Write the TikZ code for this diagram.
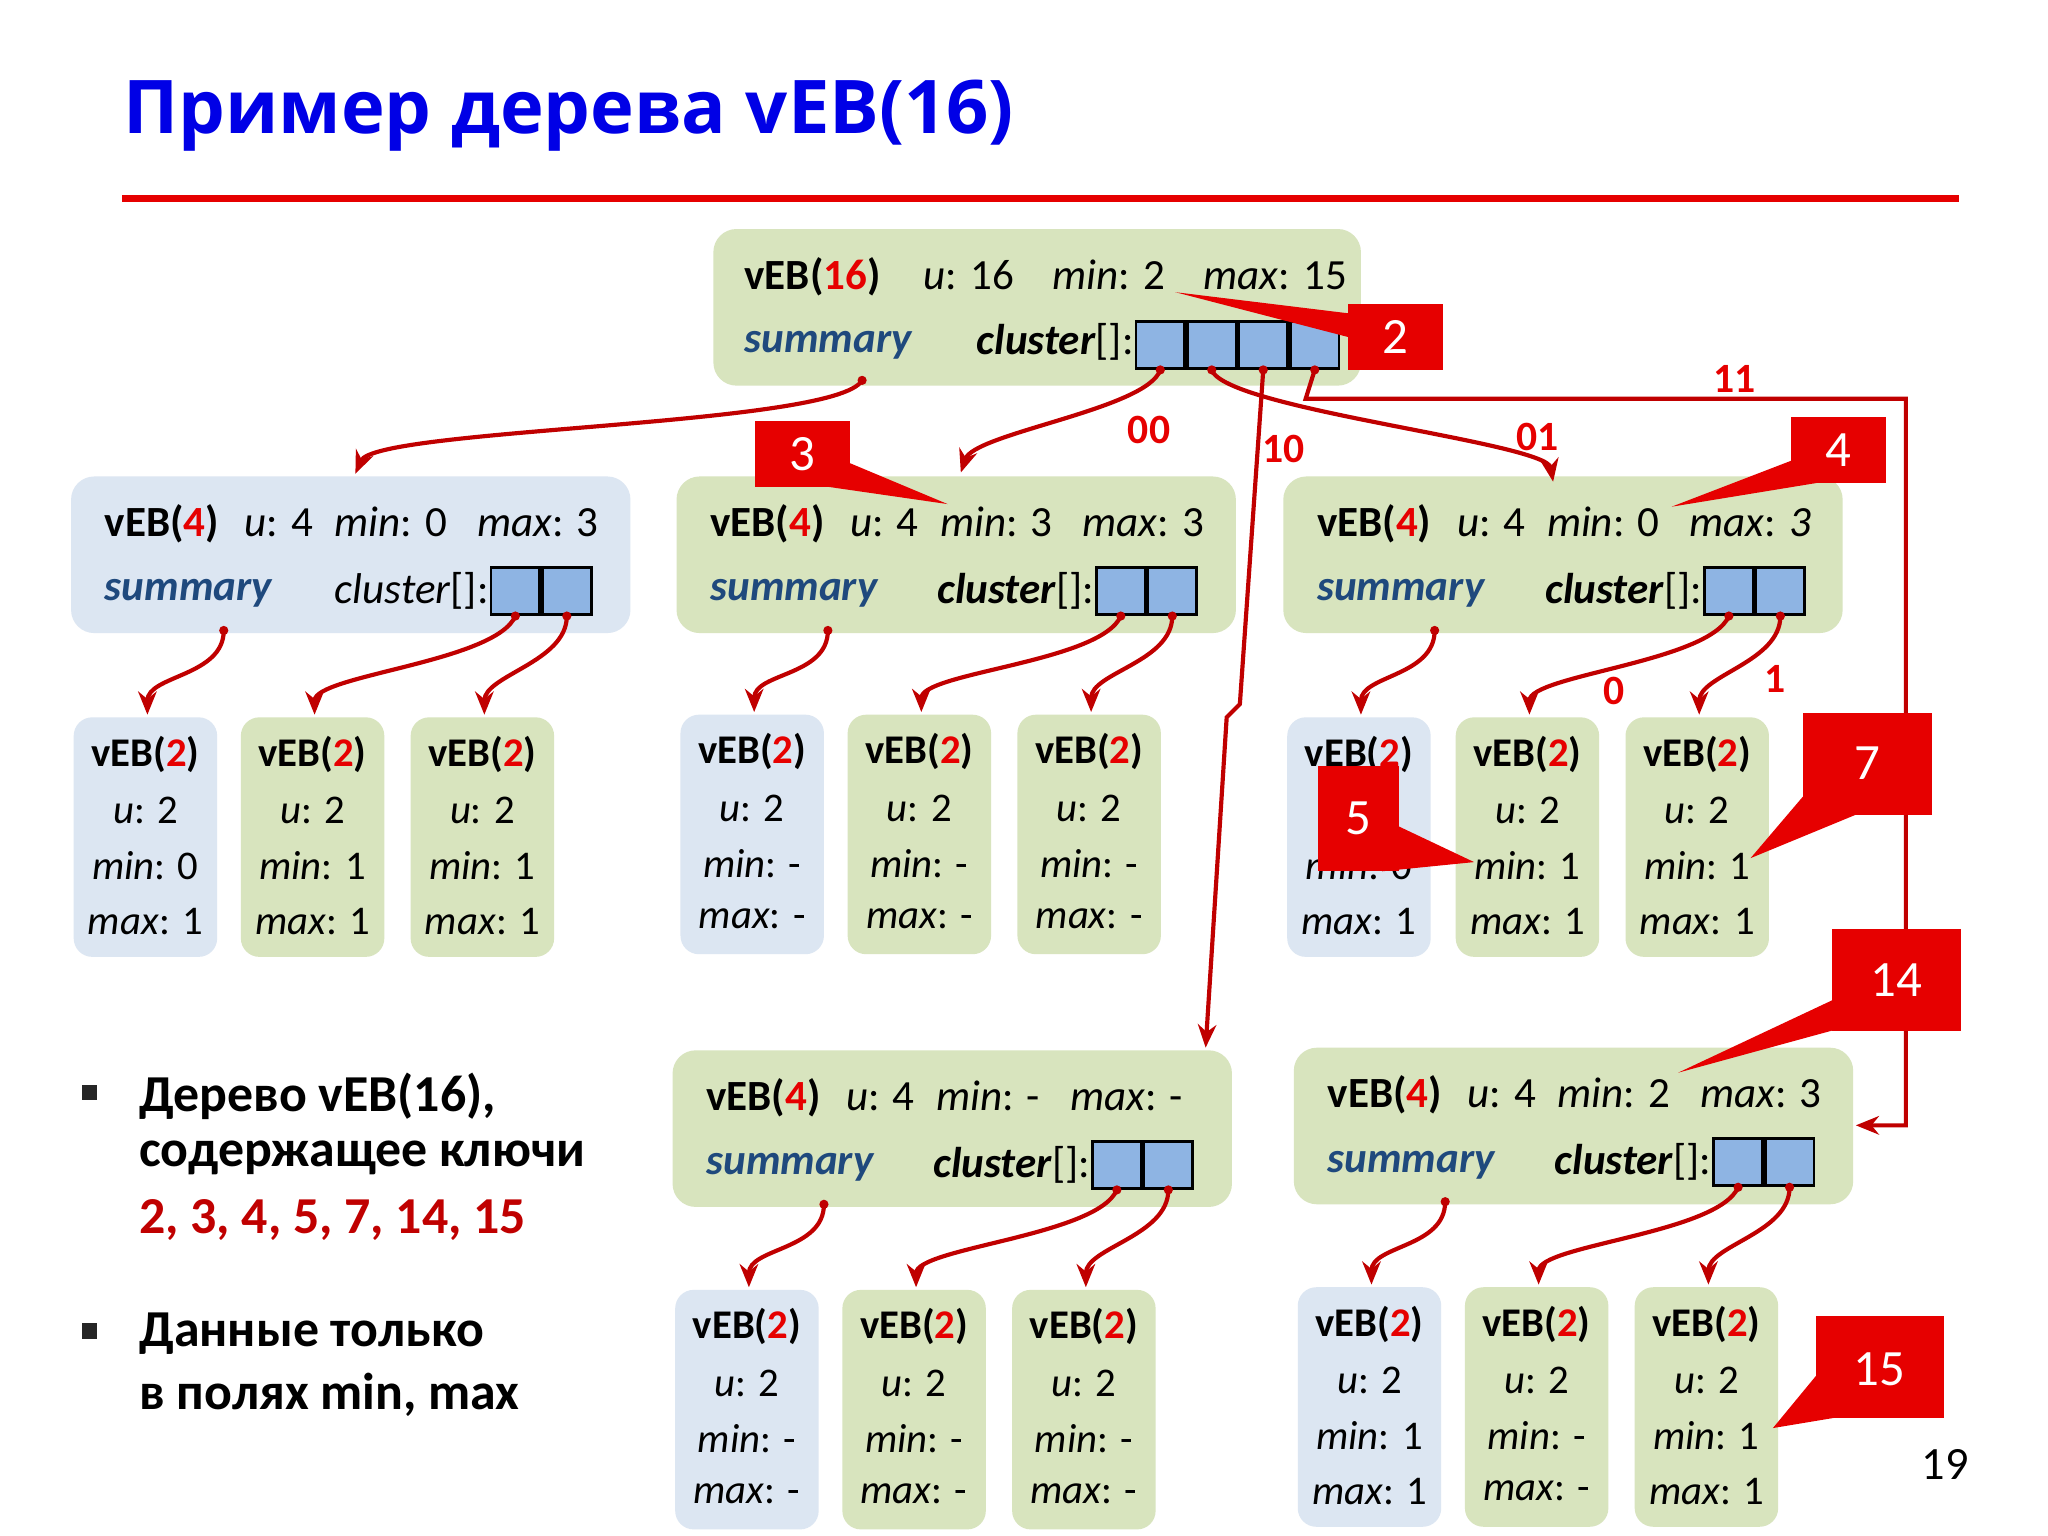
\documentclass[tikz,border=0pt]{standalone}
\usepackage{fontspec}
\setmainfont{Carlito}
\newfontfamily\titlefont{Open Sans}
\usetikzlibrary{arrows.meta,calc}
\definecolor{vred}{RGB}{230,0,0}
\definecolor{dred}{RGB}{192,0,0}
\definecolor{gfill}{RGB}{216,228,190}
\definecolor{bfill}{RGB}{220,230,242}
\definecolor{cellc}{RGB}{142,180,227}
\definecolor{sumc}{RGB}{31,73,125}
\definecolor{tblue}{RGB}{0,0,230}
\newcommand{\veb}[1]{\textbf{vEB(\textcolor{vred}{#1})}}
\newcommand{\smallbox}[6]{% name, x1, ytop, fill, min, max
  \fill[#4,rounded corners=4pt] (#2,#3) rectangle ++(109,182);
  \node[smalltxt] (#1) at ($(#2,#3)+(54.5,28)$) {\veb{2}};
  \node[smalltxt] at ($(#2,#3)+(54.5,71)$) {\textit{u}: 2};
  \node[smalltxt] at ($(#2,#3)+(54.5,113)$) {\textit{min}: #5};
  \node[smalltxt] at ($(#2,#3)+(54.5,155)$) {\textit{max}: #6};
  \coordinate (#1top) at ($(#2,#3)+(56,-2)$);
}
\newcommand{\midbox}[9]{% name,x1,ytop,fill,min,max,clusterlabel,cellx,summaryx
  \fill[#4,rounded corners=5pt] (#2,#3) rectangle ++(425,119);
  \node[boxtxt,anchor=west] at ($(#2,#3)+(25,36)$) {\veb{4}\hspace{0.6em}\textit{u}: 4\hspace{0.5em}\textit{min}: #5\hspace{0.7em}\textit{max}: #6};
  \node[boxtxt,anchor=west,text=sumc] at ($(#2,#3)+(25,89)$) {\textbf{\textit{summary}}};
  \node[boxtxt,anchor=east] at ($(#2,#3)+(#8,87)$) {#7};
  \node[cell,anchor=west] (#1c1) at ($(#2,#3)+(#8,87)$) {};
  \node[cell,anchor=west] (#1c2) at (#1c1.east) {};
  \coordinate (#1s) at ($(#2,#3)+(#9,117)$);
}
\tikzset{
  x=0.01cm,y=-0.01cm,
  boxtxt/.style={font=\fontsize{9.3}{11}\selectfont,inner sep=0pt},
  smalltxt/.style={font=\fontsize{8.8}{11}\selectfont,inner sep=0pt},
  cell/.style={draw=black,fill=cellc,minimum width=37*0.01cm,minimum height=36*0.01cm,inner sep=0pt,line width=0.6pt},
  conn/.style={draw=dred,line width=0.9pt,-{Stealth[length=5pt,width=4pt]}},
  dot/.style={fill=dred},
  lbl/.style={text=vred,font=\fontsize{9}{11}\selectfont\bfseries,inner sep=0pt},
  callout/.style={fill=vred},
  ctext/.style={text=white,font=\fontsize{11}{13}\selectfont,inner sep=0pt}
}
\begin{document}
\begin{tikzpicture}
\useasboundingbox[fill=white] (0,0) rectangle (1556,1167);
% title
\node[anchor=west,text=tblue,font=\titlefont\fontsize{16}{19}\selectfont\bfseries,inner sep=0pt] (title) at (93,88) {Пример дерева vEB(16)};
\draw[vred,line width=1.4pt] (93,151) -- (1488,151);
% top box
\fill[gfill,rounded corners=5pt] (542,174) rectangle (1034,293);
\node[boxtxt,anchor=west] (top) at (565,210) {\veb{16}\hspace{1em}\textit{u}: 16\hspace{0.9em}\textit{min}: 2\hspace{0.9em}\textit{max}: 15};
\node[boxtxt,anchor=west,text=sumc] at (565,262) {\textbf{\textit{summary}}};
\node[boxtxt,anchor=east] at (862,260) {\textbf{\textit{cluster}}[]:};
\node[cell,anchor=west] (t1) at (862,262) {};
\node[cell,anchor=west] (t2) at (t1.east) {};
\node[cell,anchor=west] (t3) at (t2.east) {};
\node[cell,anchor=west] (t4) at (t3.east) {};
\coordinate (ts) at (655,289);
% middle boxes
\midbox{A}{54}{362}{bfill}{0}{3}{\textit{cluster}[]:}{318}{116}
\midbox{B}{514}{362}{gfill}{3}{3}{\textbf{\textit{cluster}}[]:}{318}{115}
\midbox{C}{975}{362}{gfill}{0}{\textit{3}}{\textbf{\textit{cluster}}[]:}{319}{115}
\midbox{D}{511}{798}{gfill}{-}{-}{\textbf{\textit{cluster}}[]:}{318}{115}
\midbox{E}{983}{796}{gfill}{2}{3}{\textbf{\textit{cluster}}[]:}{318}{115}
% small boxes
\smallbox{a1}{56}{545}{bfill}{0}{1}
\smallbox{a2}{183}{545}{gfill}{1}{1}
\smallbox{a3}{312}{545}{gfill}{1}{1}
\smallbox{b1}{517}{543}{bfill}{-}{-}
\smallbox{b2}{644}{543}{gfill}{-}{-}
\smallbox{b3}{773}{543}{gfill}{-}{-}
\smallbox{c1}{978}{545}{bfill}{0}{1}
\smallbox{c2}{1106}{545}{gfill}{1}{1}
\smallbox{c3}{1235}{545}{gfill}{1}{1}
\smallbox{d1}{513}{980}{bfill}{-}{-}
\smallbox{d2}{640}{980}{gfill}{-}{-}
\smallbox{d3}{769}{980}{gfill}{-}{-}
\smallbox{e1}{986}{978}{bfill}{1}{1}
\smallbox{e2}{1113}{978}{gfill}{-}{-}
\smallbox{e3}{1242}{978}{gfill}{1}{1}
% top connectors
\coordinate (Atop) at (270,360);
\coordinate (Btop) at (730,359);
\coordinate (Ctop) at (1180,366);
\coordinate (Dtop) at (916,796);
\coordinate (Eright) at (1410,855);
\draw[conn] (ts) .. controls +(-20,35) and +(15,-35) .. (Atop);
\draw[conn] (t1.south) .. controls +(-10,30) and +(10,-30) .. (Btop);
\draw[conn] (t2.south) .. controls +(10,30) and +(-5,-30) .. (Ctop);
\draw[conn] (t3.south) -- (942,535) -- (932,545) -- (Dtop);
\draw[conn] (t4.south) -- (992,303) -- (1448,303) -- (1448,855) -- (Eright);
\foreach \c in {t1,t2,t3,t4}{\fill[dot] (\c.south) circle (3.5);}
\fill[dot] (ts) circle (3.5);
\node[lbl] at (873,327) {00};
\node[lbl] at (1168,332) {01};
\node[lbl] at (975,341) {10};
\node[lbl] at (1318,288) {11};
% lower connectors
\foreach \m/\k in {A/a,B/b,C/c,D/d,E/e}{
  \draw[conn] (\m s) .. controls +(0,35) and +(0,-30) .. (\k1top);
  \draw[conn] (\m c1.south) .. controls +(-15,35) and +(0,-30) .. (\k2top);
  \draw[conn] (\m c2.south) .. controls +(0,35) and +(0,-30) .. (\k3top);
  \fill[dot] (\m s) circle (3.5);
  \fill[dot] (\m c1.south) circle (3.5);
  \fill[dot] (\m c2.south) circle (3.5);
}
\node[lbl] at (1226,525) {0};
\node[lbl] at (1349,516) {1};
% callouts
\fill[callout] (1024,231) rectangle (1096,281); \fill[callout] (1024,238) -- (893,222) -- (1024,256) -- cycle;
\node[ctext] (k2) at (1060,256) {2};
\fill[callout] (574,320) rectangle (646,370); \fill[callout] (630,370) -- (720,383) -- (646,352) -- cycle;
\node[ctext] (k3) at (610,345) {3};
\fill[callout] (1361,317) rectangle (1433,367); \fill[callout] (1361,350) -- (1270,385) -- (1380,367) -- cycle;
\node[ctext] (k4) at (1397,342) {4};
\fill[callout] (1001,582) rectangle (1063,662); \fill[callout] (1063,628) -- (1120,655) -- (1050,662) -- cycle;
\node[ctext] (k5) at (1032,622) {5};
\fill[callout] (1370,542) rectangle (1468,619); \fill[callout] (1370,605) -- (1330,652) -- (1410,619) -- cycle;
\node[ctext] (k7) at (1419,580) {7};
\fill[callout] (1392,706) rectangle (1490,783); \fill[callout] (1392,760) -- (1275,815) -- (1392,783) -- cycle;
\node[ctext] (k14) at (1441,745) {14};
\fill[callout] (1380,1000) rectangle (1477,1077); \fill[callout] (1380,1045) -- (1347,1085) -- (1395,1077) -- cycle;
\node[ctext] (k15) at (1428,1040) {15};
% bullets
\tikzset{btxt/.style={anchor=west,inner sep=0pt,font=\fontsize{11.2}{13}\selectfont\bfseries}}
\fill[black!85] (62,824) rectangle ++(12,12);
\node[btxt] (b1) at (105,833) {Дерево vEB(16),};
\node[btxt] at (105,880) {содержащее ключи};
\node[btxt,text=dred] at (105,927) {2, 3, 4, 5, 7, 14, 15};
\fill[black!85] (62,1005) rectangle ++(12,12);
\node[btxt] (b2) at (105,1013) {Данные только};
\node[btxt] at (105,1060) {в полях min, max};
\node[inner sep=0pt,font=\fontsize{10}{12}\selectfont] (pg) at (1478,1113) {19};
\end{tikzpicture}
\end{document}
